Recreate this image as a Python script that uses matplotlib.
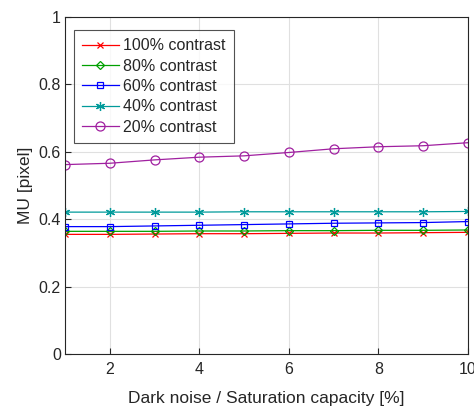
import numpy as np
import matplotlib
matplotlib.use("Agg")
import matplotlib.pyplot as plt

# donnees
x = [1, 2, 3, 4, 5, 6, 7, 8, 9, 10]
mu_100 = [0.355, 0.355, 0.356, 0.357, 0.357, 0.358, 0.359, 0.359, 0.360, 0.361]
mu_80 = [0.364, 0.364, 0.364, 0.365, 0.365, 0.366, 0.366, 0.367, 0.367, 0.368]
mu_60 = [0.378, 0.378, 0.380, 0.382, 0.384, 0.386, 0.388, 0.389, 0.390, 0.393]
mu_40 = [0.421, 0.421, 0.421, 0.421, 0.422, 0.422, 0.422, 0.422, 0.422, 0.423]
mu_20 = [0.562, 0.566, 0.576, 0.584, 0.588, 0.598, 0.609, 0.615, 0.618, 0.627]
labels = ["100% contrast", "80% contrast", "60% contrast", "40% contrast", "20% contrast"]

plt.rcParams["font.family"] = ["Liberation Sans", "DejaVu Sans"]
txt = "#262626"

fig = plt.figure(figsize=(4.74, 4.08), dpi=100)
ax = fig.add_axes([65 / 474, 1 - 354 / 408, 403 / 474, 337 / 408])

styles = [
    (mu_100, "#ff0000", "x", 5),
    (mu_80, "#00a000", "D", 4.5),
    (mu_60, "#0000ff", "s", 5),
    (mu_40, "#009a9a", (6, 2, 0), 6.5),
    (mu_20, "#a020a0", "o", 6.5),
]
for (y, c, m, ms), lab in zip(styles, labels):
    ax.plot(x, y, color=c, marker=m, markersize=ms, markerfacecolor="none",
            markeredgecolor=c, linewidth=0.9, markeredgewidth=0.9, label=lab)

ax.set_xlim(1, 10)
ax.set_ylim(0, 1)
ax.set_xticks([2, 4, 6, 8, 10])
ax.set_yticks([0, 0.2, 0.4, 0.6, 0.8, 1])
ax.set_yticklabels(["0", "0.2", "0.4", "0.6", "0.8", "1"])
ax.grid(True, color="#e0e0e0", linewidth=0.8)
ax.set_axisbelow(True)
ax.tick_params(direction="in", length=4, colors=txt, labelsize=11.5,
               top=False, right=False)
ax.tick_params(axis="y", pad=3)
ax.tick_params(axis="x", pad=6)
for s in ax.spines.values():
    s.set_color("#262626")
    s.set_linewidth(0.8)
ax.set_xlabel("Dark noise / Saturation capacity [%]", fontsize=12.5, color=txt, labelpad=10)
ax.set_ylabel("MU [pixel]", fontsize=12.5, color=txt, labelpad=4)

leg = ax.legend(loc="upper left", bbox_to_anchor=(0.022, 0.96), borderaxespad=0,
                fontsize=11.5, frameon=True, fancybox=False, handlelength=2.3,
                borderpad=0.5, labelspacing=0.33, handletextpad=0.3)
leg.get_frame().set_edgecolor("#262626")
leg.get_frame().set_linewidth(0.8)
for t in leg.get_texts():
    t.set_color(txt)

fig.savefig("out.png", dpi=100)
